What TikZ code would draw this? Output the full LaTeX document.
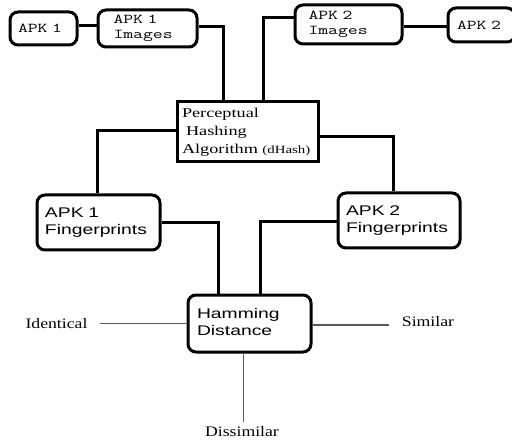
\documentclass[tikz,border=0pt]{standalone}
\usepackage{fontspec}
\newfontfamily\courfont[FakeStretch=1.42]{Latin Modern Mono}
\newfontfamily\timesfont[FakeStretch=1.35]{Liberation Serif}
\newfontfamily\etiqfont[FakeStretch=1.22]{Liberation Serif}
\newfontfamily\arialfont[FakeStretch=1.38]{Liberation Sans}
\usetikzlibrary{positioning}

\begin{document}
\begin{tikzpicture}[x=1pt,y=-1pt,
  boite/.style={draw, line width=3pt, rounded corners=8pt, align=left, inner ysep=0pt},
  carre/.style={draw, line width=3pt, align=left, inner ysep=0pt},
  mono/.style={font=\courfont\fontsize{13.5}{14.5}\selectfont},
  sans/.style={font=\arialfont\fontsize{14}{17}\selectfont},
  etiq/.style={font=\etiqfont\fontsize{14.5}{16}\selectfont, inner sep=1pt},
  lien/.style={line width=3pt},
  filet/.style={line width=1.3pt, draw=black!65}]

\useasboundingbox (0,0) rectangle (512,441);

%% ================= rangée du haut : APK et images =========================
\node[boite, mono, minimum width=67, minimum height=33, text width=51, inner xsep=8] (apkA) at (43.5,28.5) {APK 1};
\node[boite, mono, minimum width=99, minimum height=37, text width=68, inner xsep=15.5] (imgA) at (147.5,28.5) {APK 1\\Images};
\node[boite, mono, minimum width=107, minimum height=39, text width=80, inner xsep=13.5] (imgB) at (348.5,24.5) {APK 2\\Images};
\node[boite, mono, minimum width=67, minimum height=34, text width=49, inner xsep=9] (apkB) at (481.5,25) {APK 2};

%% ================= algorithme de hachage ==================================
\node[carre, minimum width=141, minimum height=60, text width=131, inner xsep=5,
  font=\timesfont\fontsize{13.5}{18}\selectfont] (hash) at (247.5,132)
  {Perceptual\\\hspace*{4pt}Hashing\\Algorithm {\fontsize{11}{12}\selectfont(dHash)}};

%% ================= empreintes et distance =================================
\node[boite, sans, minimum width=123, minimum height=55, text width=107, inner xsep=8] (fpA) at (98.5,222.5) {APK 1\\Fingerprints};
\node[boite, sans, minimum width=122, minimum height=55, text width=106, inner xsep=8] (fpB) at (399,220.5) {APK 2\\Fingerprints};
\node[boite, sans, minimum width=123, minimum height=57, text width=105, inner xsep=9] (ham) at (249.5,323.5) {Hamming\\Distance\vphantom{g}};

%% ================= résultats ==============================================
\node[etiq] (ident)  at (56.5,324) {Identical};
\node[etiq] (simil)  at (428,322)  {Similar};
\node[etiq] (dissim) at (242,432)  {Dissimilar};

%% ================= liaisons ===============================================
\draw[lien] ([yshift=2.5]apkA.east) -- ([yshift=2.5]apkA.east -| imgA.west);
\draw[lien] ([yshift=1.5]imgA.east) -| ([xshift=48]hash.north west);
\draw[lien] ([yshift=6.5]imgB.west) -| ([xshift=-56]hash.north east);
\draw[lien] ([yshift=-2]imgB.east) -- ([yshift=-2]imgB.east -| apkB.west);
\draw[lien] ([yshift=1]hash.west) -| ([xshift=-1.5]fpA.north);
\draw[lien] ([yshift=-5]hash.east) -| ([xshift=-6]fpB.north);
\draw[lien] (fpA.east) -| ([xshift=32]ham.north west);
\draw[lien] ([yshift=-1.5]fpB.west) -| ([xshift=74]ham.north west);
\draw[filet, shorten >=11] (ham.west) -- (ham.west -| ident.east);
\draw[filet, shorten >=12] ([yshift=-1.5]ham.east) -- ([yshift=-1.5]ham.east -| simil.west);
\draw[filet, shorten >=4] ([xshift=-6]ham.south) -- ([xshift=-6]ham.south |- dissim.north);
\end{tikzpicture}
\end{document}
